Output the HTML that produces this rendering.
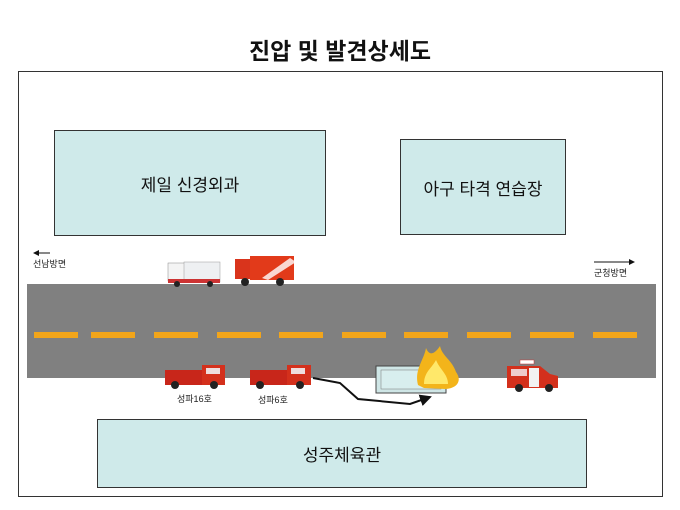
<!DOCTYPE html>
<html><head><meta charset="utf-8"><style>
body{margin:0;width:680px;height:510px;background:#fff;position:relative;overflow:hidden;font-family:"Liberation Sans","Noto Sans CJK KR","NanumGothic",sans-serif}
.a{position:absolute}
.box{position:absolute;background:#cfeaea;border:1px solid #333;box-sizing:border-box;display:flex;align-items:center;justify-content:center;font-size:17px;color:#111}
.dash{position:absolute;top:332px;width:44px;height:6px;background:#f2a51a}
.lbl{position:absolute;font-size:9px;color:#222}
</style></head><body>
<div class="a" style="left:0;top:32px;width:680px;text-align:center;font-size:23px;font-weight:bold;color:#111">진압 및 발견상세도</div>
<div class="a" style="left:18px;top:71px;width:645px;height:426px;border:1px solid #333;box-sizing:border-box"></div>
<div class="box" style="left:54px;top:130px;width:272px;height:106px">제일 신경외과</div>
<div class="box" style="left:400px;top:139px;width:166px;height:96px">아구 타격 연습장</div>
<div class="box" style="left:97px;top:419px;width:490px;height:69px">성주체육관</div>
<div class="a" style="left:27px;top:284px;width:629px;height:94px;background:#808080"></div>
<div class="dash" style="left:34px"></div><div class="dash" style="left:91px"></div><div class="dash" style="left:154px"></div><div class="dash" style="left:217px"></div><div class="dash" style="left:279px"></div><div class="dash" style="left:342px"></div><div class="dash" style="left:404px"></div><div class="dash" style="left:467px"></div><div class="dash" style="left:530px"></div><div class="dash" style="left:593px"></div>
<div class="lbl" style="left:33px;top:257px">선남방면</div>
<div class="lbl" style="left:594px;top:266px">군청방면</div>
<div class="lbl" style="left:177px;top:392px">성파16호</div>
<div class="lbl" style="left:258px;top:393px">성파6호</div>
<svg class="a" style="left:0;top:0" width="680" height="510">
<defs><marker id="m" markerWidth="6" markerHeight="6" refX="5" refY="3" orient="auto"><path d="M0,0L6,3L0,6z" fill="#111"/></marker></defs>
<line x1="50" y1="253" x2="34" y2="253" stroke="#111" marker-end="url(#m)"/>
<line x1="594" y1="262" x2="634" y2="262" stroke="#111" marker-end="url(#m)"/>
<rect x="168" y="263" width="24" height="18" fill="#f4f4f4" stroke="#888" stroke-width=".5"/>
<rect x="184" y="262" width="36" height="20" fill="#eef0f2" stroke="#999" stroke-width=".5"/>
<rect x="168" y="279" width="52" height="4" fill="#c33"/>
<circle cx="177" cy="284" r="3" fill="#222"/><circle cx="210" cy="284" r="3" fill="#222"/>
<rect x="235" y="259" width="18" height="20" fill="#d9341c"/>
<rect x="250" y="256" width="44" height="24" fill="#e23a1a"/>
<path d="M262 278 L290 258 L296 262 L268 280z" fill="#fff" opacity=".8"/>
<circle cx="245" cy="282" r="4" fill="#222"/><circle cx="280" cy="282" r="4" fill="#222"/>
<g><rect x="165" y="370" width="38" height="15" fill="#c8261a"/><rect x="202" y="365" width="23" height="20" fill="#d4301c"/><rect x="206" y="368" width="14" height="6" fill="#edd"/><circle cx="175" cy="385" r="4" fill="#222"/><circle cx="214" cy="385" r="4" fill="#222"/></g>
<g><rect x="250" y="370" width="38" height="15" fill="#c8261a"/><rect x="287" y="365" width="24" height="20" fill="#d4301c"/><rect x="291" y="368" width="14" height="6" fill="#edd"/><circle cx="260" cy="385" r="4" fill="#222"/><circle cx="300" cy="385" r="4" fill="#222"/></g>
<path d="M313 378 L340 383 L358 399 L410 404 L430 397" fill="none" stroke="#111" stroke-width="2" marker-end="url(#m)"/>
<rect x="376" y="366" width="70" height="27" fill="#cfe6e6" stroke="#444"/>
<rect x="381" y="370" width="60" height="19" fill="#d8eeee" stroke="#777" stroke-width=".5"/>
<path d="M418 385 C414 370 424 360 426 348 C430 358 436 352 440 346 C442 356 452 360 456 372 C462 380 458 388 446 389 L424 388 Z" fill="#f3b41a"/>
<path d="M424 384 C424 372 432 368 436 360 C440 370 448 374 448 384 Z" fill="#ffe86a"/>
<path d="M507 366 L540 366 L550 374 L558 376 L558 388 L507 388 Z" fill="#d3301c"/>
<rect x="529" y="368" width="10" height="19" fill="#f2f2f2"/>
<rect x="511" y="369" width="16" height="7" fill="#ecc"/>
<rect x="520" y="360" width="14" height="4" fill="#fff" stroke="#c33" stroke-width=".5"/>
<circle cx="519" cy="388" r="4" fill="#222"/><circle cx="549" cy="388" r="4" fill="#222"/>
</svg>
</body></html>
